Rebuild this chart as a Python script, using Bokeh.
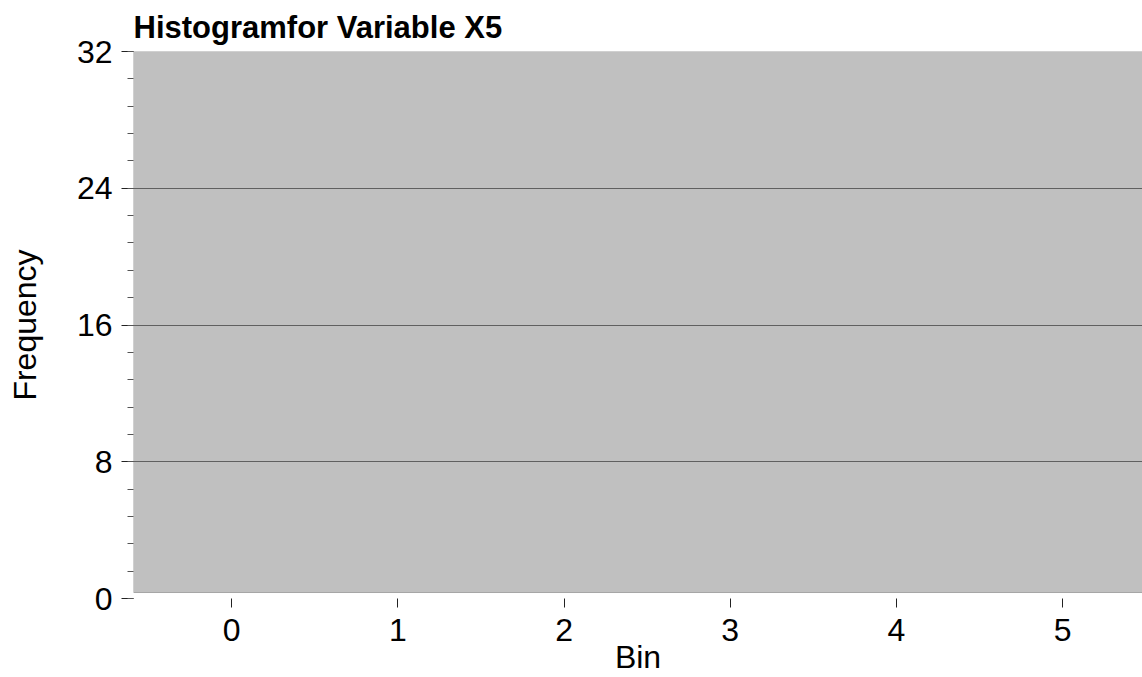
from bokeh.plotting import figure
from bokeh.models import Range1d, BoxAnnotation, SingleIntervalTicker, FixedTicker, ColumnDataSource
from bokeh.embed import file_html
from bokeh.resources import INLINE

# ---- data ----
bins = [0, 1, 2, 3, 4, 5]
frequency = [0, 0, 0, 0, 0, 0]
grid_ticks = [8, 16, 24]
title_text = "Histogramfor Variable X5"

FONT = "Liberation Sans"

src = ColumnDataSource(data=dict(bin=bins, freq=frequency))

p = figure(width=1142, height=677, output_backend="svg", toolbar_location=None,
           x_range=Range1d(-0.59, 5.48), y_range=Range1d(0, 32),
           title=title_text,
           min_border_left=133, min_border_right=0, min_border_top=0, min_border_bottom=0)
p.background_fill_color = "white"
p.border_fill_color = "white"
p.outline_line_color = None

# gray plotting area (slightly lifted off the zero line, as in the reference)
box = BoxAnnotation(bottom=0.35, right=5.7, fill_color="#c0c0c0", fill_alpha=1.0,
                    line_color="#222222", line_width=1, level="image")
p.add_layout(box)

p.vbar(x="bin", top="freq", width=0.8, source=src, fill_color="#4f81bd", line_color=None)

# title
p.title.text_font = FONT
p.title.text_font_size = "31px"
p.title.text_font_style = "bold"
p.title.align = "left"
p.title.standoff = 14
p.title.text_color = "black"

# grid
p.xgrid.visible = False
p.ygrid.ticker = FixedTicker(ticks=grid_ticks)
p.ygrid.grid_line_color = "black"
p.ygrid.grid_line_dash = "1 1"
p.ygrid.grid_line_width = 1

# y axis
ya = p.yaxis[0]
ya.ticker = SingleIntervalTicker(interval=8, num_minor_ticks=5)
ya.axis_line_color = None
ya.major_tick_out = 12
ya.major_tick_in = 0
ya.minor_tick_out = 6
ya.minor_tick_in = 0
ya.major_tick_line_color = "#222222"
ya.minor_tick_line_color = "#555555"
ya.major_label_standoff = 9
ya.major_label_text_font = FONT
ya.major_label_text_font_size = "32px"
ya.major_label_text_color = "black"
ya.axis_label = "Frequency"
ya.axis_label_text_font = FONT
ya.axis_label_text_font_size = "32px"
ya.axis_label_text_font_style = "normal"
ya.axis_label_text_color = "black"
ya.axis_label_standoff = 31

# x axis
xa = p.xaxis[0]
xa.ticker = FixedTicker(ticks=bins)
xa.axis_line_color = None
xa.major_tick_out = 9
xa.major_tick_in = 0
xa.minor_tick_out = 0
xa.minor_tick_in = 0
xa.major_tick_line_color = "#222222"
xa.major_label_standoff = 11
xa.major_label_text_font = FONT
xa.major_label_text_font_size = "32px"
xa.major_label_text_color = "black"
xa.axis_label = "Bin"
xa.axis_label_text_font = FONT
xa.axis_label_text_font_size = "32px"
xa.axis_label_text_font_style = "normal"
xa.axis_label_text_color = "black"
xa.axis_label_standoff = -5

open("out.html", "w").write(file_html(p, INLINE))
